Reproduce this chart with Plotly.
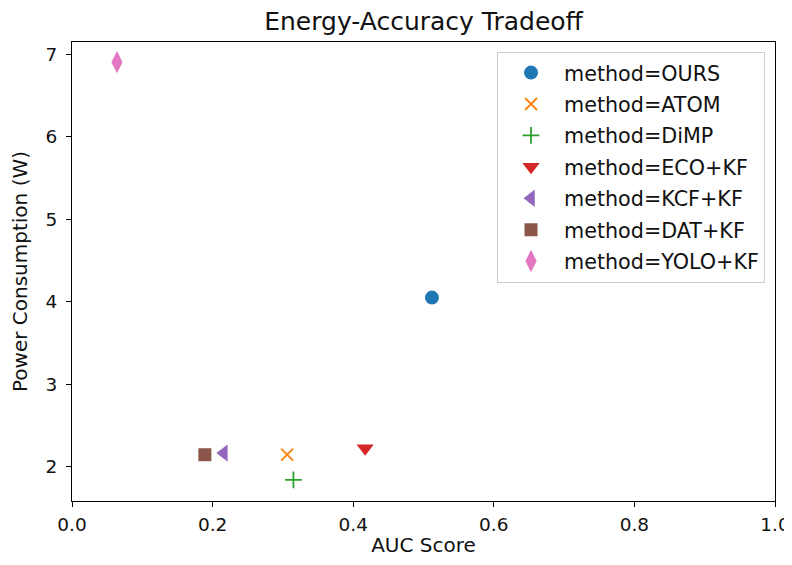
import plotly.graph_objects as go

methods = ["OURS", "ATOM", "DiMP", "ECO+KF", "KCF+KF", "DAT+KF", "YOLO+KF"]
auc = [0.512, 0.306, 0.315, 0.417, 0.216, 0.189, 0.064]
power = [4.05, 2.145, 1.84, 2.225, 2.165, 2.145, 6.905]
colors = ["#1f77b4", "#ff7f0e", "#2ca02c", "#d62728", "#9467bd", "#8c564b", "#e377c2"]
symbols = ["circle", "x-thin-open", "cross-thin-open", "triangle-down", "triangle-left", "square", "diamond-tall"]
sizes = [14, 12, 12, 15, 15, 13, 16]

FONT = "DejaVu Sans"
TXT = "#111111"
fig = go.Figure()
for i, m in enumerate(methods):
    thin = symbols[i].endswith("open")
    fig.add_trace(go.Scatter(
        x=[auc[i]], y=[power[i]], mode="markers", name=f"method={m}",
        legendgroup=m,
        marker=dict(symbol=symbols[i], size=sizes[i], color=colors[i],
                    line=dict(width=1.8 if thin else 0, color=colors[i])),
    ))

axis_common = dict(
    showline=True, linecolor="black", linewidth=1, mirror=True, automargin=False,
    ticks="outside", ticklen=5, tickcolor="black", showgrid=False, zeroline=False,
    tickfont=dict(family=FONT, size=18.5, color=TXT),
)
W, H = 784, 549
fig.update_layout(
    width=W, height=H,
    margin=dict(l=64, r=17, t=34, b=56),
    plot_bgcolor="white", paper_bgcolor="white",
    title=dict(text="Energy-Accuracy Tradeoff", x=0.5, xref="paper", xanchor="center",
               y=1 - 13 / H, yanchor="middle",
               font=dict(family=FONT, size=25, color=TXT)),
    xaxis=dict(range=[0, 1], tickvals=[0, 0.2, 0.4, 0.6, 0.8, 1.0], ticktext=["0.0", "0.2", "0.4", "0.6", "0.8", "1.0"],
               ticklabelstandoff=2,
               title=dict(text="AUC Score", font=dict(family=FONT, size=20, color=TXT)), **axis_common),
    yaxis=dict(range=[1.584, 7.149], tickvals=[2, 3, 4, 5, 6, 7], ticklabelstandoff=5,
               title=dict(text="Power Consumption (W)", font=dict(family=FONT, size=20, color=TXT)), **axis_common),
    legend=dict(x=0.9858, y=0.979, xanchor="right", yanchor="top", bgcolor="white",
                bordercolor="#cccccc", borderwidth=1, tracegroupgap=1.5, itemwidth=56,
                font=dict(family=FONT, size=20.7, color=TXT)),
    showlegend=True,
)
fig.write_html("out.html")
